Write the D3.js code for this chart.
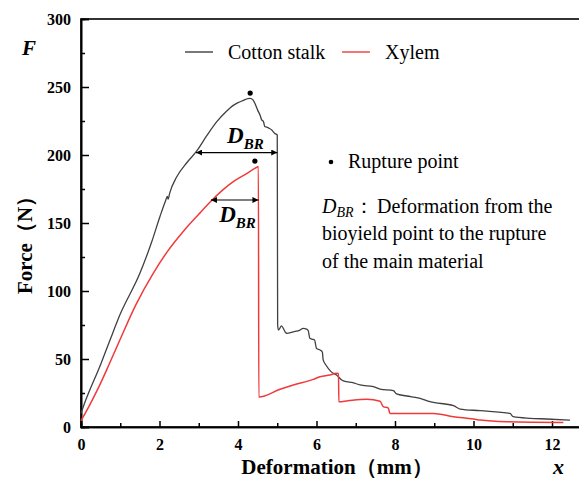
<!DOCTYPE html>
<html>
<head>
<meta charset="utf-8">
<script src="https://cdn.jsdelivr.net/npm/d3@7"></script>
<style>
  html, body { margin: 0; padding: 0; background: #fff; }
  svg { display: block; }
</style>
</head>
<body>
<svg id="chart" width="579" height="479"></svg>
<script>
// ---- data ----
const cottonX = [0, 0.09, 0.5, 0.74, 1.0, 1.5, 1.8, 2.01, 2.15, 2.2, 2.22, 2.26, 2.44, 2.7, 2.95, 3.2, 3.46, 3.7, 3.88, 4.0, 4.14, 4.25, 4.31, 4.38, 4.43, 4.5, 4.56, 4.6, 4.65, 4.68, 4.73, 4.8, 4.86, 4.93, 5.0,
  5.01, 5.03, 5.11, 5.2, 5.24, 5.41, 5.58, 5.66, 5.75, 5.79, 5.83, 5.9, 5.95, 6.0, 6.1, 6.15, 6.17, 6.24, 6.37, 6.51, 6.64, 6.77, 6.9, 7.11, 7.45, 7.62, 7.96, 8.04, 8.3, 8.64, 8.89, 9.49, 9.66, 10.17, 10.93, 11.01, 11.44, 11.86, 12.46];
const cottonF = [10, 17.4, 46, 64, 83, 113, 136, 154.6, 166, 169.5, 167.5, 172, 184, 194.5, 203, 214, 224.5, 232, 236.5, 238.5, 240.2, 241.5, 241.7, 240.5, 238, 233, 229.4, 226, 224.5, 221, 220.5, 219.5, 218.4, 216, 214.7,
  75, 71.3, 74.3, 70, 68.9, 70, 71.3, 72.5, 72, 70.8, 65.2, 64.5, 64, 57.8, 56.5, 55, 49.3, 45.6, 40.7, 38.2, 34.6, 33.3, 32.8, 30.9, 29.7, 27.9, 26.7, 24.3, 22.8, 21.1, 18.6, 15.7, 13.2, 12, 10, 7.6, 6.4, 5.9, 5.1];

const xylemX = [0, 0.2, 0.43, 0.7, 0.99, 1.4, 1.84, 2.2, 2.61, 3.0, 3.29, 3.6, 3.88, 4.2, 4.48, 4.52,
  4.53, 5.07, 5.41, 5.92, 6.09, 6.34, 6.51, 6.56, 6.57, 6.8, 7.28, 7.62, 7.7, 7.83, 7.87, 8.98, 9.49, 10.0, 10.17, 10.85, 12.29];
const xylemF = [4.6, 15, 28, 45, 64, 90, 113, 129, 144, 156.5, 165.5, 174, 180.4, 186, 191, 191.6,
  22, 27.7, 30.9, 35, 37, 38.2, 39.5, 39.3, 18.6, 19.3, 20.4, 18.9, 15, 13.9, 10, 10, 7.6, 5.9, 5.1, 3.9, 3.4];

const xTicks = [0, 2, 4, 6, 8, 10, 12];
const xTickLabels = ["0", "2", "4", "6", "8", "10", "12"];
const yTicks = [0, 50, 100, 150, 200, 250, 300];
const yTickLabels = ["0", "50", "100", "150", "200", "250", "300"];
const xMinor = [1, 3, 5, 7, 9, 11];
const yMinor = [25, 75, 125, 175, 225, 275];

const seriesNames = ["Cotton stalk", "Xylem"];
const seriesColors = ["#404040", "#f03a3a"];

// rupture points [x, F]
const rupturePts = [[4.31, 245.5], [4.43, 195.5]];
// D_BR arrows: [x0, x1, F]
const dbrArrows = [[2.93, 5.0, 201.8], [3.31, 4.52, 166.9]];
const dbrLabels = [[3.72, 209], [3.52, 151]];

// ---- layout ----
const svg = d3.select("#chart");
const m = { left: 81, top: 19, bottom: 427 };
const x = d3.scaleLinear().domain([0, 13]).range([m.left, m.left + 13 * 39.25]);
const y = d3.scaleLinear().domain([0, 300]).range([m.bottom, m.top]);

const font = '"Liberation Serif", "Times New Roman", serif';
function txt(sel) { return sel.style("font-family", font).attr("fill", "#000"); }

// frame
svg.append("rect")
  .attr("x", x(0)).attr("y", y(300))
  .attr("width", x(13) - x(0)).attr("height", y(0) - y(300))
  .attr("fill", "none").attr("stroke", "#000").attr("stroke-width", 1.6);

// axes
const yAxis = d3.axisLeft(y).tickValues(yTicks).tickFormat((d, i) => yTickLabels[i]).tickSize(-8).tickPadding(10);
const xAxis = d3.axisBottom(x).tickValues(xTicks).tickFormat((d, i) => xTickLabels[i]).tickSize(-6).tickPadding(12);
const gy = svg.append("g").attr("transform", `translate(${m.left},0)`).call(yAxis);
const gx = svg.append("g").attr("transform", `translate(0,${m.bottom})`).call(xAxis);
svg.append("g").attr("transform", `translate(${m.left},0)`).call(d3.axisLeft(y).tickValues(yMinor).tickFormat("").tickSize(-4));
svg.append("g").attr("transform", `translate(0,${m.bottom})`).call(d3.axisBottom(x).tickValues(xMinor).tickFormat("").tickSize(-4));
svg.selectAll("g").attr("font-family", null);
svg.selectAll(".domain").attr("stroke", "#000").attr("stroke-width", 1.6);
svg.selectAll(".tick line").attr("stroke", "#000").attr("stroke-width", 1.5);
[gx, gy].forEach(g => txt(g.selectAll("text")).style("font-size", "16px").style("font-weight", "bold"));

// lines
const line = d3.line().x(d => x(d[0])).y(d => y(d[1])).curve(d3.curveMonotoneX);
svg.append("path").datum(cottonX.map((v, i) => [v, cottonF[i]]))
  .attr("d", line).attr("fill", "none").attr("stroke", seriesColors[0]).attr("stroke-width", 1.3).attr("stroke-linejoin", "round");
svg.append("path").datum(xylemX.map((v, i) => [v, xylemF[i]]))
  .attr("d", line).attr("fill", "none").attr("stroke", seriesColors[1]).attr("stroke-width", 1.5).attr("stroke-linejoin", "round");

// rupture dots
svg.selectAll("circle.rp").data(rupturePts).enter().append("circle")
  .attr("cx", d => x(d[0])).attr("cy", d => y(d[1])).attr("r", 2.6).attr("fill", "#000");

// arrow markers
const defs = svg.append("defs");
defs.append("marker").attr("id", "ah").attr("viewBox", "0 0 10 10").attr("refX", 10).attr("refY", 5)
  .attr("markerWidth", 8).attr("markerHeight", 6).attr("markerUnits", "userSpaceOnUse").attr("orient", "auto-start-reverse")
  .append("path").attr("d", "M0,0 L10,5 L0,10 Z").attr("fill", "#000");
svg.selectAll("line.dbr").data(dbrArrows).enter().append("line")
  .attr("x1", d => x(d[0])).attr("x2", d => x(d[1])).attr("y1", d => y(d[2])).attr("y2", d => y(d[2]))
  .attr("stroke", "#000").attr("stroke-width", 1.2)
  .attr("marker-start", "url(#ah)").attr("marker-end", "url(#ah)");

// D_BR labels
dbrLabels.forEach(d => {
  const t = txt(svg.append("text")).attr("x", x(d[0])).attr("y", y(d[1]))
    .style("font-style", "italic").style("font-weight", "bold");
  t.append("tspan").text("D").style("font-size", "23px");
  t.append("tspan").text("BR").style("font-size", "15px").attr("dy", 6);
});

// axis titles
txt(svg.append("text")).attr("transform", `translate(32,240) rotate(-90)`).attr("text-anchor", "middle")
  .style("font-size", "21px").style("font-weight", "bold").text("Force（N）");
txt(svg.append("text")).attr("x", 337).attr("y", 474).attr("text-anchor", "middle")
  .style("font-size", "21px").style("font-weight", "bold").text("Deformation（mm）");
txt(svg.append("text")).attr("x", 22).attr("y", 55).style("font-size", "21px").style("font-weight", "bold").style("font-style", "italic").text("F");
txt(svg.append("text")).attr("x", 553).attr("y", 474).style("font-size", "22px").style("font-weight", "bold").style("font-style", "italic").text("x");

// legend
const legX = [[185, 213, 228], [342, 370, 385]];
seriesNames.forEach((n, i) => {
  svg.append("line").attr("x1", legX[i][0]).attr("x2", legX[i][1]).attr("y1", 52).attr("y2", 52)
    .attr("stroke", seriesColors[i]).attr("stroke-width", 1.4);
  txt(svg.append("text")).attr("x", legX[i][2]).attr("y", 59).style("font-size", "20px").text(n);
});

// annotations
svg.append("circle").attr("cx", 331).attr("cy", 162).attr("r", 2.3).attr("fill", "#000");
txt(svg.append("text")).attr("x", 348).attr("y", 168).style("font-size", "20px").text("Rupture point");

const t1 = txt(svg.append("text")).attr("x", 322).attr("y", 213).style("font-size", "20px");
t1.append("tspan").text("D").style("font-style", "italic");
t1.append("tspan").text("BR").style("font-style", "italic").style("font-size", "14px").attr("dy", 4);
t1.append("tspan").text("：").attr("dy", -4);
t1.append("tspan").text("Deformation from the").attr("x", 377);
txt(svg.append("text")).attr("x", 322).attr("y", 240).style("font-size", "20px").text("bioyield point to the rupture");
txt(svg.append("text")).attr("x", 322).attr("y", 268).style("font-size", "20px").text("of the main material");
</script>
</body>
</html>
